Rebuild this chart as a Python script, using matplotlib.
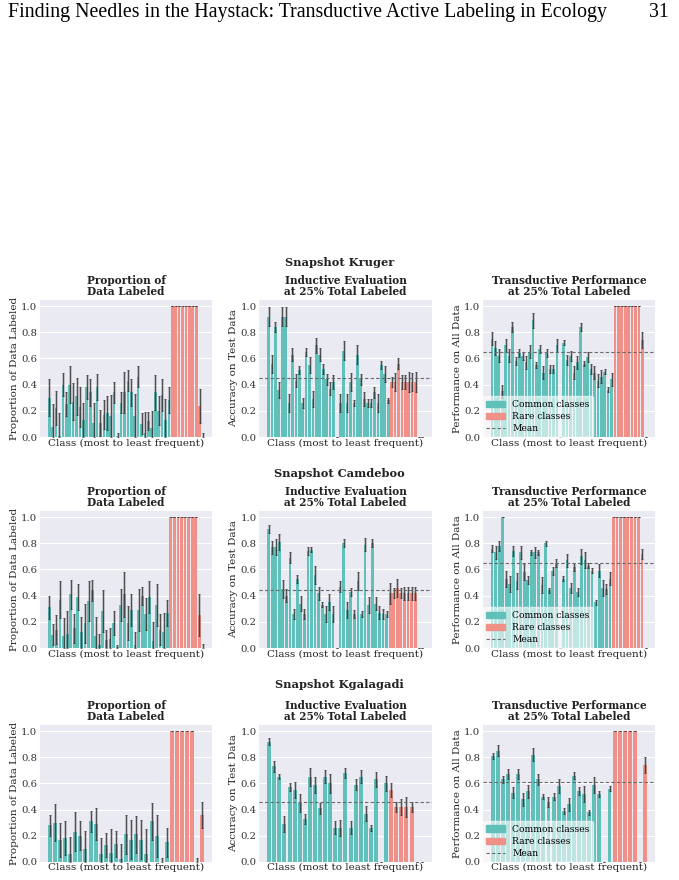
import numpy as np
import matplotlib
matplotlib.use("Agg")
import matplotlib.pyplot as plt
from matplotlib.patches import Patch
from matplotlib.lines import Line2D

# ---- data ----
# Kruger: 36 common + 10 rare classes
kruger_prop = [0.30, 0.08, 0.22, 0.01, 0.40, 0.25, 0.40, 0.27, 0.31, 0.23, 0.13, 0.38,
               0.34, 0.11, 0.38, 0.11, 0.17, 0.18, 0.16, 0.34, 0.01, 0.26, 0.34, 0.43,
               0.34, 0.16, 0.46, 0.10, 0.03, 0.12, 0.07, 0.34, 0.20, 0.32, 0.13, 0.28,
               1, 1, 1, 1, 1, 1, 1, 1, 0.24, 0.0]
kruger_prop_err = [0.14, 0.17, 0.13, 0.17, 0.09, 0.09, 0.14, 0.14, 0.14, 0.15, 0.13, 0.09,
                   0.10, 0.15, 0.10, 0.10, 0.11, 0.13, 0.16, 0.08, 0.02, 0.08, 0.16, 0.08,
                   0.10, 0.17, 0.08, 0.08, 0.16, 0.07, 0.13, 0.13, 0.11, 0.12, 0.16, 0.10,
                   0, 0, 0, 0, 0, 0, 0, 0, 0.13, 0.03]
kruger_ind = [0.92, 0.56, 0.84, 0.36, 0.92, 0.92, 0.26, 0.63, 0.43, 0.51, 0.26, 0.65,
              0.55, 0.29, 0.70, 0.63, 0.52, 0.44, 0.37, 0.42, 0.0, 0.26, 0.66, 0.26,
              0.42, 0.26, 0.63, 0.44, 0.29, 0.26, 0.26, 0.34, 0.26, 0.55, 0.48, 0.28,
              0.42, 0.42, 0.56, 0.42, 0.42, 0.42, 0.42, 0.42, 0.0, 0.0]
kruger_ind_err = [0.07, 0.07, 0.04, 0.06, 0.07, 0.07, 0.07, 0.05, 0.05, 0.03, 0.04, 0.03,
                  0.06, 0.06, 0.06, 0.05, 0.04, 0.04, 0.05, 0.05, 0.0, 0.07, 0.07, 0.07,
                  0.07, 0.02, 0.07, 0.04, 0.05, 0.03, 0.03, 0.04, 0.07, 0.03, 0.06, 0.02,
                  0.04, 0.07, 0.04, 0.05, 0.05, 0.08, 0.07, 0.08, 0.0, 0.0]
kruger_tra = [0.75, 0.68, 0.62, 0.35, 0.70, 0.62, 0.84, 0.58, 0.64, 0.62, 0.57, 0.65,
              0.89, 0.55, 0.67, 0.49, 0.64, 0.52, 0.52, 0.70, 0.0, 0.72, 0.59, 0.62,
              0.49, 0.57, 0.84, 0.56, 0.61, 0.52, 0.49, 0.43, 0.46, 0.50, 0.36, 0.44,
              1, 1, 1, 1, 1, 1, 1, 1, 0.74, 0.0]
kruger_tra_err = [0.05, 0.05, 0.05, 0.05, 0.05, 0.05, 0.04, 0.03, 0.03, 0.03, 0.05, 0.05,
                  0.06, 0.02, 0.03, 0.05, 0.03, 0.03, 0.03, 0.05, 0.0, 0.02, 0.04, 0.04,
                  0.05, 0.05, 0.03, 0.02, 0.04, 0.04, 0.05, 0.05, 0.05, 0.02, 0.02, 0.05,
                  0, 0, 0, 0, 0, 0, 0, 0, 0.06, 0.0]
kruger_n_common = 36
kruger_means = [0.45, 0.65]

# Camdeboo: 34 common + 10 rare classes
camdeboo_prop = [0.31, 0.10, 0.14, 0.37, 0.09, 0.11, 0.41, 0.15, 0.39, 0.12, 0.19, 0.36,
                 0.44, 0.09, 0.02, 0.28, 0.06, 0.07, 0.19, 0.01, 0.33, 0.41, 0.19, 0.29,
                 0.02, 0.29, 0.40, 0.26, 0.39, 0.05, 0.33, 0.14, 0.12, 0.27,
                 1, 1, 1, 1, 1, 1, 1, 1, 0.25, 0.0]
camdeboo_prop_err = [0.09, 0.08, 0.11, 0.14, 0.14, 0.17, 0.11, 0.11, 0.10, 0.12, 0.15, 0.15,
                     0.08, 0.15, 0.09, 0.16, 0.08, 0.08, 0.09, 0.01, 0.12, 0.17, 0.13, 0.12,
                     0.10, 0.16, 0.07, 0.12, 0.12, 0.15, 0.16, 0.12, 0.15, 0.10,
                     0, 0, 0, 0, 0, 0, 0, 0, 0.16, 0.03]
camdeboo_ind = [0.91, 0.77, 0.77, 0.81, 0.45, 0.40, 0.69, 0.26, 0.53, 0.34, 0.26, 0.74,
                0.75, 0.56, 0.42, 0.33, 0.26, 0.35, 0.26, 0.0, 0.47, 0.80, 0.29, 0.43,
                0.26, 0.51, 0.26, 0.79, 0.33, 0.80, 0.34, 0.27, 0.26, 0.26,
                0.42, 0.42, 0.46, 0.42, 0.42, 0.42, 0.42, 0.42, 0.0, 0.0]
camdeboo_ind_err = [0.03, 0.05, 0.06, 0.06, 0.07, 0.05, 0.04, 0.04, 0.03, 0.06, 0.04, 0.03,
                    0.02, 0.07, 0.05, 0.02, 0.06, 0.06, 0.06, 0.0, 0.04, 0.03, 0.06, 0.03,
                    0.03, 0.07, 0.02, 0.05, 0.06, 0.03, 0.05, 0.05, 0.04, 0.02,
                    0.08, 0.04, 0.07, 0.04, 0.05, 0.05, 0.05, 0.05, 0.0, 0.0]
camdeboo_tra = [0.76, 0.73, 0.78, 1.0, 0.53, 0.49, 0.74, 0.51, 0.73, 0.58, 0.52, 0.73,
                0.73, 0.73, 0.48, 0.80, 0.44, 0.59, 0.65, 0.0, 0.53, 0.67, 0.46, 0.62,
                0.43, 0.70, 0.67, 0.63, 0.59, 0.35, 0.59, 0.46, 0.45, 0.53,
                1, 1, 1, 1, 1, 1, 1, 1, 0.72, 0.0]
camdeboo_tra_err = [0.03, 0.05, 0.04, 0.0, 0.06, 0.06, 0.04, 0.06, 0.05, 0.06, 0.03, 0.02,
                    0.04, 0.02, 0.06, 0.02, 0.02, 0.03, 0.03, 0.0, 0.02, 0.05, 0.04, 0.03,
                    0.03, 0.06, 0.06, 0.02, 0.02, 0.02, 0.05, 0.06, 0.04, 0.05,
                    0, 0, 0, 0, 0, 0, 0, 0, 0.04, 0.0]
camdeboo_n_common = 34
camdeboo_means = [0.44, 0.65]

# Kgalagadi: 24 common + 7 rare classes
kgalagadi_prop = [0.28, 0.30, 0.17, 0.18, 0.06, 0.23, 0.20, 0.10, 0.31, 0.29, 0.06, 0.13,
                  0.07, 0.14, 0.02, 0.21, 0.17, 0.21, 0.17, 0.06, 0.31, 0.20, 0.0, 0.15,
                  1, 1, 1, 1, 1, 0.0, 0.36]
kgalagadi_prop_err = [0.08, 0.14, 0.13, 0.13, 0.13, 0.15, 0.11, 0.14, 0.08, 0.12, 0.12, 0.09,
                      0.18, 0.10, 0.12, 0.15, 0.15, 0.14, 0.15, 0.19, 0.14, 0.16, 0.03, 0.11,
                      0, 0, 0, 0, 0, 0.03, 0.10]
kgalagadi_ind = [0.92, 0.73, 0.65, 0.29, 0.57, 0.55, 0.45, 0.33, 0.65, 0.59, 0.41, 0.65,
                 0.60, 0.26, 0.26, 0.68, 0.26, 0.59, 0.65, 0.37, 0.26, 0.63, 0.0, 0.60,
                 0.55, 0.42, 0.42, 0.42, 0.42, 0.0, 0.0]
kgalagadi_ind_err = [0.03, 0.04, 0.02, 0.06, 0.03, 0.06, 0.07, 0.04, 0.07, 0.06, 0.04, 0.05,
                     0.07, 0.05, 0.06, 0.04, 0.05, 0.04, 0.05, 0.06, 0.02, 0.06, 0.0, 0.06,
                     0.05, 0.04, 0.06, 0.08, 0.04, 0.0, 0.0]
kgalagadi_tra = [0.81, 0.85, 0.63, 0.67, 0.53, 0.67, 0.48, 0.54, 0.82, 0.63, 0.50, 0.46,
                 0.50, 0.58, 0.39, 0.44, 0.66, 0.54, 0.52, 0.38, 0.59, 0.52, 0.0, 0.56,
                 1, 1, 1, 1, 1, 0.0, 0.74]
kgalagadi_tra_err = [0.02, 0.04, 0.03, 0.04, 0.04, 0.04, 0.05, 0.05, 0.05, 0.04, 0.02, 0.04,
                     0.03, 0.05, 0.02, 0.05, 0.03, 0.03, 0.06, 0.02, 0.06, 0.02, 0.0, 0.02,
                     0, 0, 0, 0, 0, 0.0, 0.06]
kgalagadi_n_common = 24
kgalagadi_means = [0.46, 0.61]

sites = ["Snapshot Kruger", "Snapshot Camdeboo", "Snapshot Kgalagadi"]
panel_titles = ["Proportion of\nData Labeled",
                "Inductive Evaluation\nat 25% Total Labeled",
                "Transductive Performance\nat 25% Total Labeled"]
ylabels = ["Proportion of Data Labeled", "Accuracy on Test Data", "Performance on All Data"]

COMMON = "#62c0bb"
RARE = "#ef9189"
BG = "#eaeaf2"
MEAN_C = "#6a6a6a"

plt.rcParams["font.family"] = "DejaVu Serif"

fig = plt.figure(figsize=(6.79, 8.80), dpi=100)

fig.text(0.012, 0.986, "Finding Needles in the Haystack: Transductive Active Labeling in Ecology",
         fontsize=14.3, family="Liberation Serif", va="center", ha="left")
fig.text(0.985, 0.986, "31", fontsize=14.3, family="Liberation Serif", va="center", ha="right")

rows = [
    (kruger_n_common, [(kruger_prop, kruger_prop_err), (kruger_ind, kruger_ind_err),
                       (kruger_tra, kruger_tra_err)], kruger_means),
    (camdeboo_n_common, [(camdeboo_prop, camdeboo_prop_err), (camdeboo_ind, camdeboo_ind_err),
                         (camdeboo_tra, camdeboo_tra_err)], camdeboo_means),
    (kgalagadi_n_common, [(kgalagadi_prop, kgalagadi_prop_err), (kgalagadi_ind, kgalagadi_ind_err),
                          (kgalagadi_tra, kgalagadi_tra_err)], kgalagadi_means),
]

row_bottoms = [0.5034, 0.2636, 0.0205]
row_h = 0.1562
col_lefts = [0.059, 0.382, 0.711]
col_w = 0.2535
suptitle_y = [0.702, 0.4625, 0.2216]

for r, (n_common, panels, means) in enumerate(rows):
    fig.text(0.5, suptitle_y[r], sites[r], ha="center", va="center",
             fontsize=8.2, fontweight="bold", color="#222222")
    for c, (vals, errs) in enumerate(panels):
        ax = fig.add_axes([col_lefts[c], row_bottoms[r], col_w, row_h])
        ax.set_facecolor(BG)
        for s in ax.spines.values():
            s.set_visible(False)
        ax.grid(axis="y", color="white", lw=0.8)
        ax.set_axisbelow(True)

        vals = np.array(vals, dtype=float)
        errs = np.array(errs, dtype=float)
        x = np.arange(len(vals))
        colors = [COMMON if i < n_common else RARE for i in x]
        ax.bar(x, vals, width=0.78, color=colors)
        lo = np.clip(vals - errs, 0, None)
        hi = vals + errs
        # translucent grey band + thin dark whisker with caps
        ax.vlines(x, lo, hi, color="#444444", lw=1.8, alpha=0.35, zorder=3)
        ax.errorbar(x, vals, yerr=[vals - lo, hi - vals], fmt="none", ecolor="#333333",
                    elinewidth=0.55, capsize=1.0, capthick=0.5, zorder=4)

        if c > 0:
            ax.axhline(means[c - 1], color=MEAN_C, ls=(0, (3, 2)), lw=0.8, zorder=5)

        ax.set_ylim(0, 1.05)
        ax.set_yticks([0.0, 0.2, 0.4, 0.6, 0.8, 1.0])
        ax.set_yticklabels(["0.0", "0.2", "0.4", "0.6", "0.8", "1.0"])
        ax.set_xticks([])
        ax.tick_params(axis="y", labelsize=7.3, length=0, pad=2, labelcolor="#333333")
        ax.set_xlabel("Class (most to least frequent)", fontsize=7.5, labelpad=1, color="#222222")
        ax.set_ylabel(ylabels[c], fontsize=7.5, labelpad=1.5, color="#222222")
        ax.set_title(panel_titles[c], fontsize=7.6, fontweight="bold", pad=3,
                     linespacing=1.0, color="#222222")

        if c == 2:
            handles = [Patch(color=COMMON), Patch(color=RARE),
                       Line2D([0], [0], color=MEAN_C, ls=(0, (3, 2)), lw=0.8)]
            ax.legend(handles, ["Common classes", "Rare classes", "Mean"], loc="lower left",
                      fontsize=6.6, frameon=True, framealpha=0.6, facecolor="white",
                      edgecolor="white", borderaxespad=0.0, handlelength=2.0,
                      labelspacing=0.35, borderpad=0.4)

fig.savefig("out.png", dpi=100)
